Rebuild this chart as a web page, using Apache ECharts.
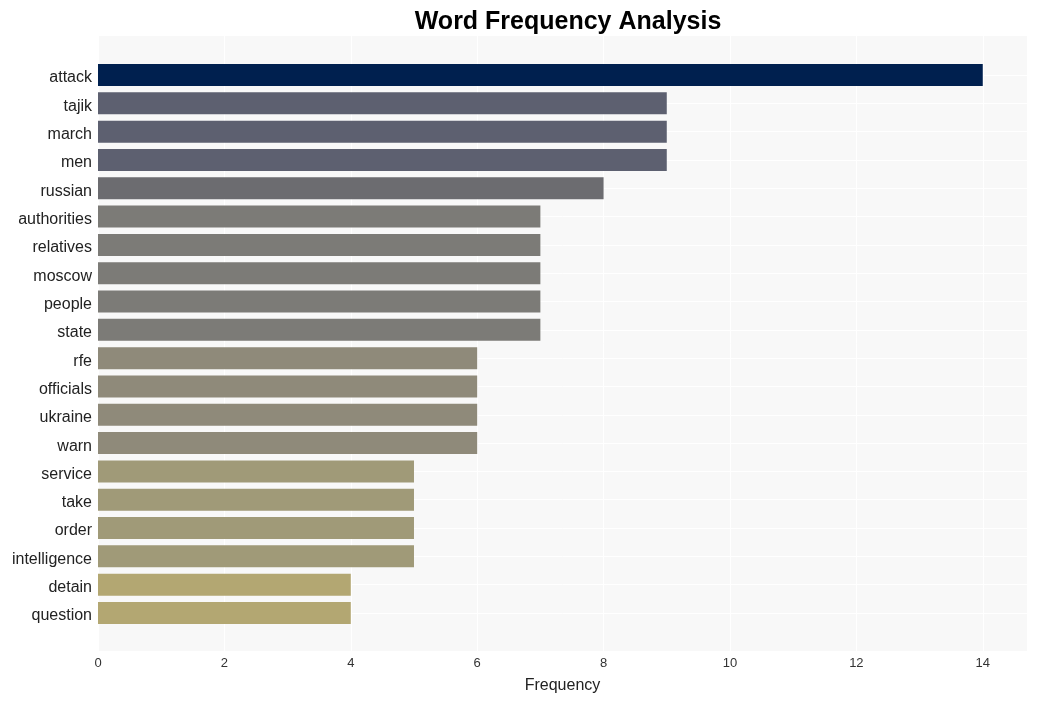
<!DOCTYPE html>
<html>
<head>
<meta charset="utf-8">
<script src="https://cdn.jsdelivr.net/npm/echarts@6/dist/echarts.min.js"></script>
<style>html,body{margin:0;padding:0;background:#fff}#c{width:1037px;height:701px}</style>
</head>
<body>
<div id="c"></div>
<script>
const categories = ["attack","tajik","march","men","russian","authorities","relatives","moscow","people","state","rfe","officials","ukraine","warn","service","take","order","intelligence","detain","question"];
const values = [14,9,9,9,8,7,7,7,7,7,6,6,6,6,5,5,5,5,4,4];
const xTicks = [0,2,4,6,8,10,12,14];
const colorByValue = {14:"#00204f",9:"#5d6070",8:"#6c6c70",7:"#7c7b77",6:"#8f8a7a",5:"#a09a78",4:"#b3a772"};

const chart = echarts.init(document.getElementById('c'));
const L = 98, R = 10;
const FONT = "Liberation Sans, Arial, sans-serif";
chart.setOption({
  animation: false,
  title: {text: "Word Frequency Analysis", left: 563, top: 5, textAlign: 'center',
    textStyle: {fontFamily: FONT, fontWeight: 'bold', fontSize: 25, color: '#000'}},
  grid: [
    {left: L, right: R, top: 36, bottom: 50, show: true, backgroundColor: '#f8f8f8', borderWidth: 0},
    {left: L, right: R, top: 75, bottom: 88}
  ],
  xAxis: [
    {type: 'value', gridIndex: 0, min: 0, max: 14.7, interval: 2,
     axisLine: {show: false}, axisTick: {show: false},
     axisLabel: {color: '#333', fontSize: 13, fontFamily: FONT, margin: 6, customValues: xTicks},
     splitLine: {show: true, lineStyle: {color: '#ffffff', width: 1}},
     name: 'Frequency', nameLocation: 'middle', nameGap: 27,
     nameTextStyle: {color: '#222', fontSize: 16, fontFamily: FONT}},
    {type: 'value', gridIndex: 1, min: 0, max: 14.7, show: false, splitLine: {show: false}}
  ],
  yAxis: [
    {type: 'value', gridIndex: 0, min: 0, max: 1, show: false, splitLine: {show: false}},
    {type: 'category', gridIndex: 1, data: categories, inverse: true, boundaryGap: false,
     axisLine: {show: false}, axisTick: {show: false},
     axisLabel: {margin: 6, interval: 0, formatter: '{a|{value}}',
       rich: {a: {color: '#222', fontSize: 16, fontFamily: FONT, padding: [6, 0, 0, 0]}}},
     splitLine: {show: true, interval: 0, lineStyle: {color: '#ffffff', width: 1}}}
  ],
  series: [{
    type: 'bar', xAxisIndex: 1, yAxisIndex: 1, barWidth: 22,
    data: values.map(v => ({value: v, itemStyle: {color: colorByValue[v]}}))
  }]
});
</script>
</body>
</html>
